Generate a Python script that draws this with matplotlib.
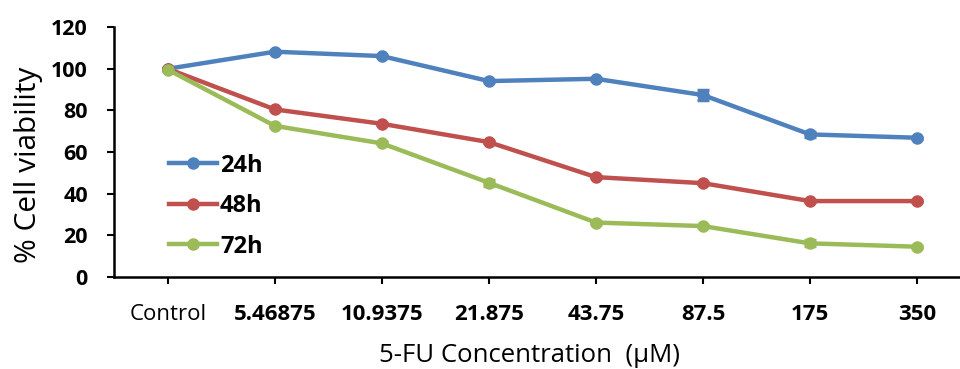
import matplotlib
matplotlib.use("Agg")
import matplotlib.pyplot as plt
from matplotlib.lines import Line2D
import numpy as np

plt.rcParams['font.family'] = ['Open Sans', 'DejaVu Sans']

concentrations = ["Control", "5.46875", "10.9375", "21.875", "43.75", "87.5", "175", "350"]
series_labels = ["24h", "48h", "72h"]
viability_24h = [100.0, 108.2, 106.1, 94.1, 95.2, 87.4, 68.5, 66.9]
viability_48h = [100.0, 80.5, 73.6, 64.8, 48.0, 45.1, 36.5, 36.5]
viability_72h = [99.6, 72.6, 64.2, 45.3, 26.2, 24.5, 16.2, 14.6]
err_24h = [0.5, 0.5, 0.5, 0.5, 0.5, 2.6, 1.2, 0.5]
err_48h = [0.5, 0.5, 0.5, 0.5, 0.5, 0.5, 0.5, 0.5]
err_72h = [0.5, 0.5, 0.5, 1.5, 0.5, 0.5, 1.5, 0.5]

colors = {'24h': '#4F81BD', '48h': '#C0504D', '72h': '#9BBB59'}
line_style = dict(lw=3.2, marker='o', markersize=8)

fig = plt.figure(figsize=(9.6, 3.69), dpi=100)
# axis runs a bit past the right edge, like the cropped original
ax = fig.add_axes([0.119, 0.249, 0.892, 0.6775])

x = np.arange(len(concentrations))
handles = []
for label, vals, err in zip(series_labels,
                            [viability_24h, viability_48h, viability_72h],
                            [err_24h, err_48h, err_72h]):
    ax.errorbar(x, vals, yerr=err, color=colors[label], capsize=4, capthick=2.5,
                elinewidth=2.5, **line_style)
    handles.append(Line2D([], [], color=colors[label], label=label, **line_style))

ax.set_xlim(-0.5, len(concentrations) - 0.5)
ax.set_ylim(0, 120)
ax.set_yticks(range(0, 121, 20))
ax.set_xticks(x)
ax.set_xticklabels(concentrations)
ax.tick_params(axis='y', labelsize=15.5, width=1.5, length=5, direction='out', pad=14)
ax.tick_params(axis='x', labelsize=16, width=1.5, length=5, direction='out', pad=14)
for t in ax.get_xticklabels()[1:] + ax.get_yticklabels():
    t.set_fontweight('bold')

for side in ['top', 'right']:
    ax.spines[side].set_visible(False)
for side in ['left', 'bottom']:
    ax.spines[side].set_linewidth(1.8)

ax.set_ylabel("% Cell viability", fontsize=21.5)
ax.yaxis.set_label_coords(-0.083, 0.45)
ax.set_xlabel("5-FU Concentration  (µM)", fontsize=18.5)
ax.xaxis.set_label_coords(0.485, -0.265)

ax.legend(handles=handles, loc='upper left', bbox_to_anchor=(0.045, 0.56),
          frameon=False, prop={'weight': 'bold', 'size': 17}, handlelength=2.0,
          handletextpad=0.15, labelspacing=0.7, borderaxespad=0.3)

fig.savefig("out.png", dpi=100)
